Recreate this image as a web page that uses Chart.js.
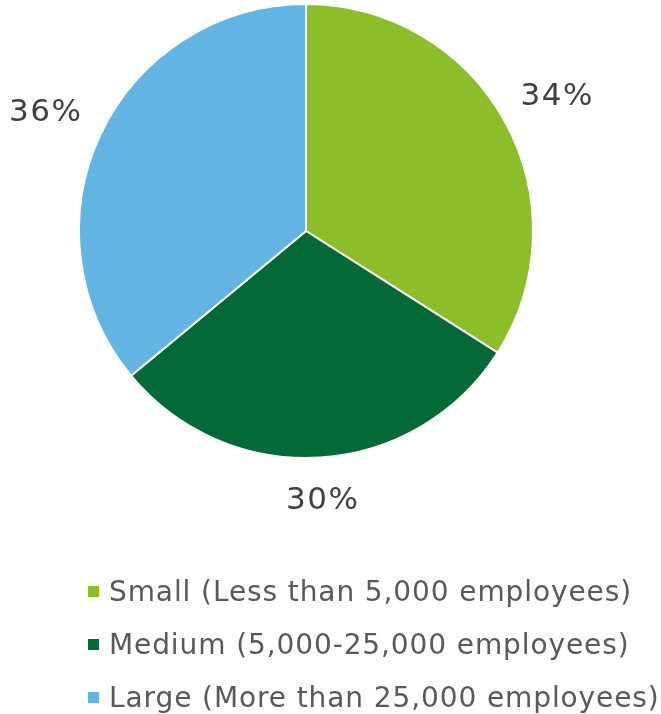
<!DOCTYPE html>
<html>
<head>
<meta charset="utf-8">
<script src="https://cdn.jsdelivr.net/npm/chart.js@4"></script>
<style>
  html, body { margin: 0; padding: 0; background: #fff; }
  #wrap { position: relative; width: 661px; height: 714px; }
  #legend { position: absolute; left: 88px; top: 570px; font-family: "DejaVu Sans", Verdana, sans-serif; font-size: 28px; letter-spacing: 0.9px; color: #595959; }
  #legend div { height: 53px; line-height: 44px; white-space: nowrap; }
  #legend span.box { display: inline-block; width: 11px; height: 11px; margin-right: 10px; vertical-align: middle; position: relative; top: -2px; }
</style>
</head>
<body>
<div id="wrap">
  <canvas id="myChart" width="661" height="714"></canvas>
  <div id="legend"></div>
</div>
<script>
const categories = ['Small (Less than 5,000 employees)', 'Medium (5,000-25,000 employees)', 'Large (More than 25,000 employees)'];
const shares = [34, 30, 36];
const colors = ['#8BBE29', '#036A37', '#62B4E3'];

document.addEventListener("DOMContentLoaded", () => {
  // labels outside each slice
  const outsideLabels = {
    id: 'outsideLabels',
    afterDatasetsDraw(chart) {
      const ctx = chart.ctx;
      const meta = chart.getDatasetMeta(0);
      ctx.save();
      ctx.font = '31px "DejaVu Sans", Verdana, sans-serif';
      ctx.letterSpacing = '1.5px';
      ctx.fillStyle = '#404040';
      ctx.textAlign = 'center';
      ctx.textBaseline = 'middle';
      meta.data.forEach((arc, i) => {
        const mid = (arc.startAngle + arc.endAngle) / 2;
        const dx = Math.cos(mid), dy = Math.sin(mid);
        const text = shares[i] + '%';
        const hw = ctx.measureText(text).width / 2, hh = 12;
        const d = arc.outerRadius + 27 + Math.sqrt((hw * dx) ** 2 + (hh * dy) ** 2);
        ctx.fillText(text, arc.x + dx * d, arc.y + dy * d + 4);
      });
      ctx.restore();
    }
  };

  new Chart(document.getElementById('myChart').getContext('2d'), {
    type: 'pie',
    data: {
      labels: categories,
      datasets: [{
        data: shares,
        backgroundColor: colors,
        borderColor: '#ffffff',
        borderWidth: 2
      }]
    },
    options: {
      responsive: false,
      animation: false,
      layout: { padding: { left: 78, right: 127, top: 3, bottom: 255 } },
      plugins: {
        legend: { display: false },
        tooltip: { enabled: false }
      }
    },
    plugins: [outsideLabels]
  });

  const legend = document.getElementById('legend');
  categories.forEach((c, i) => {
    const row = document.createElement('div');
    row.innerHTML = '<span class="box" style="background:' + colors[i] + '"></span>' + c;
    legend.appendChild(row);
  });
});
</script>
</body>
</html>
